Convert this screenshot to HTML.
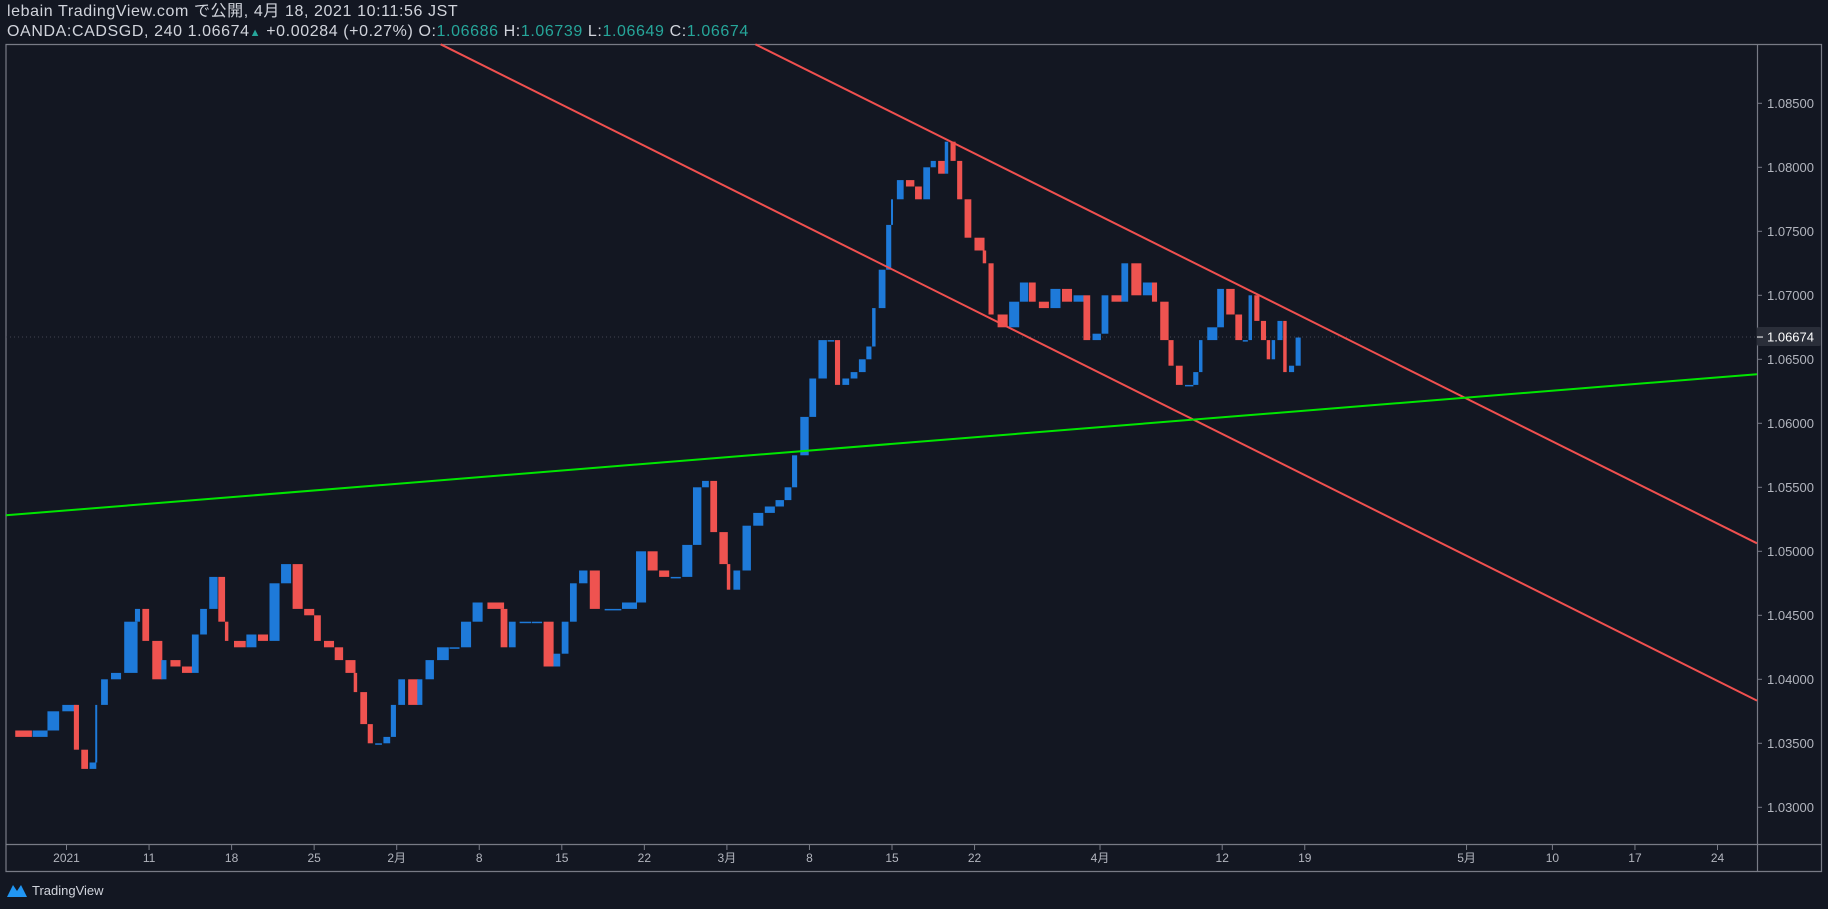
<!DOCTYPE html>
<html><head><meta charset="utf-8">
<style>
html,body{margin:0;padding:0;background:#131722;width:1828px;height:909px;overflow:hidden;font-family:"Liberation Sans","Noto Sans CJK JP",sans-serif;}
#hdr{position:absolute;left:7px;top:2px;color:#d1d4dc;font-size:16px;letter-spacing:0.6px;line-height:20px;}
.g{color:#26a69a}
#logo{position:absolute;left:6px;top:882px;color:#d1d4dc;font-size:13px;display:flex;align-items:center;gap:4px}
</style></head><body>
<div id="hdr">
<div>lebain TradingView.com で公開, 4月 18, 2021 10:11:56 JST</div>
<div>OANDA:CADSGD, 240 1.06674<span class="g" style="font-size:11px">▲</span> +0.00284 (+0.27%) O:<span class="g">1.06686</span> H:<span class="g">1.06739</span> L:<span class="g">1.06649</span> C:<span class="g">1.06674</span></div>
</div>
<svg id="chart" width="1828" height="909" style="position:absolute;left:0;top:0"></svg>
<div id="logo"><svg width="22" height="16"><path d="M1 15 L7 3 L11 9 L15 3 L21 15 Z" fill="#2196f3"/></svg>TradingView</div>
<script>
const days=[-3.7,-2.6,-1.6,-0.8,0.2,0.6,1.1,1.6,1.8,2.3,3.0,3.9,4.3,4.8,5.5,5.9,6.6,7.3,7.8,8.3,8.9,9.4,9.7,10.5,11.2,11.9,12.6,13.3,14.0,14.7,15.2,15.9,16.5,17.2,17.5,18.0,18.4,18.9,19.4,19.8,20.3,21.0,21.4,22.0,22.8,23.5,24.2,24.9,26.0,26.5,27.0,27.8,28.5,29.2,29.7,30.2,30.7,31.3,32.0,33.1,34.1,34.8,35.5,36.2,36.9,37.6,38.2,38.7,39.2,39.8,40.1,40.6,41.2,41.9,42.6,43.2,43.7,44.1,44.7,45.2,45.8,46.3,46.7,47.2,47.7,48.2,48.6,48.9,49.4,49.8,50.0,50.5,51.1,51.6,52.1,52.5,53.0,53.3,53.7,54.1,54.6,55.3,55.6,56.0,56.7,57.4,58.0,58.5,59.2,59.9,60.6,61.3,61.8,62.4,62.9,63.6,64.1,64.8,65.5,65.9,66.5,66.9,67.4,68.0,68.4,68.7,69.4,69.9,70.5,71.0,71.4,71.7,72.1,72.5,72.8,73.1,73.5,73.8,74.2,74.6];
const closes=[1.0360,1.0355,1.0360,1.0375,1.0380,1.0345,1.0330,1.0335,1.0380,1.0400,1.0405,1.0445,1.0455,1.0430,1.0400,1.0415,1.0410,1.0405,1.0435,1.0455,1.0480,1.0445,1.0430,1.0425,1.0435,1.0430,1.0475,1.0490,1.0455,1.0450,1.0430,1.0425,1.0415,1.0405,1.0390,1.0365,1.0350,1.0350,1.0355,1.0380,1.0400,1.0380,1.0400,1.0415,1.0425,1.0425,1.0445,1.0460,1.0455,1.0425,1.0445,1.0445,1.0445,1.0410,1.0420,1.0445,1.0475,1.0485,1.0455,1.0455,1.0460,1.0500,1.0485,1.0480,1.0480,1.0505,1.0550,1.0555,1.0515,1.0490,1.0470,1.0485,1.0520,1.0530,1.0535,1.0540,1.0550,1.0575,1.0605,1.0635,1.0665,1.0665,1.0630,1.0635,1.0640,1.0650,1.0660,1.0690,1.0720,1.0755,1.0775,1.0790,1.0785,1.0775,1.0800,1.0805,1.0795,1.0820,1.0805,1.0775,1.0745,1.0735,1.0725,1.0685,1.0675,1.0695,1.0710,1.0695,1.0690,1.0705,1.0695,1.0700,1.0665,1.0670,1.0700,1.0695,1.0725,1.0700,1.0710,1.0695,1.0665,1.0645,1.0630,1.0630,1.0640,1.0665,1.0675,1.0705,1.0685,1.0665,1.0665,1.0700,1.0680,1.0665,1.0650,1.0665,1.0680,1.0640,1.0645,1.0667];
const priceTicks=[1.085,1.080,1.075,1.070,1.065,1.060,1.055,1.050,1.045,1.040,1.035,1.030];
const timeTickDays=[0,5,10,15,20,25,30,35,40,45,50,55,62.6,70,75,84.8,90,95,100];
const timeTickLabels=["2021","11","18","25","2月","8","15","22","3月","8","15","22","4月","12","19","5月","10","17","24"];
const lastPrice=1.06674;
const NS="http://www.w3.org/2000/svg";
const svg=document.getElementById('chart');
const X=d=>66.5+d*16.51;
const Y=p=>103.3+(1.085-p)*12800;
function mk(tag,attrs,parent){const e=document.createElementNS(NS,tag);for(const k in attrs)e.setAttribute(k,attrs[k]);(parent||svg).appendChild(e);return e;}
const fr=mk('path',{d:'M6 44.5 H1821.5 V871.5 H6 Z M1757.5 44.5 V871.5 M6 844.5 H1821.5',fill:'none',stroke:'#787b86','stroke-width':1.2});


priceTicks.forEach(p=>{
 const y=Y(p);
 const t=mk('line',{x1:1757,x2:1762,y1:y,y2:y,stroke:'#787b86'});
 
 
 const l=mk('text',{x:1767,y:y+4.5,fill:'#b2b5be','font-size':13,'font-family':'Liberation Sans, sans-serif'});
 l.textContent=p.toFixed(5);
 
 
});
timeTickDays.forEach((d,i)=>{
 const x=X(d);
 const t=mk('line',{x1:x,x2:x,y1:845,y2:850,stroke:'#787b86'});
 
 
 const l=mk('text',{x:x,y:862,fill:'#b2b5be','font-size':12,'text-anchor':'middle','font-family':'Liberation Sans, Noto Sans CJK JP, sans-serif'});
 l.textContent=timeTickLabels[i];
 
 
});
const ly=Y(lastPrice);
const lp=mk('line',{x1:6,x2:1757,y1:ly,y2:ly,stroke:'#434651','stroke-dasharray':'1 3'});


for(let i=1;i<closes.length;i++){
 const o=closes[i-1],c=closes[i];
 const gap=(days[i]-days[i-1])*16.51;
 const w=Math.max(2,gap-1.5);
 const x=X(days[i])-w/2;
 const up=c>=o;
 const top=Y(Math.max(o,c)),h=Math.max(1.5,Math.abs(Y(o)-Y(c)));
 const r=mk('rect',{x:x,y:top,width:w,height:h,fill:up?'#1e7ad9':'#ef5350'});
 
 
}
const lines=[['upper-channel-line',755.4,44.3,1757,543.3,'#f0504f'],['lower-channel-line',440.7,44.3,1757,700.6,'#f0504f'],['support-trend-line',6,515.3,1757,374.2,'#00e600']];
lines.forEach(L=>{
 const e=mk('line',{x1:L[1],y1:L[2],x2:L[3],y2:L[4],stroke:L[5],'stroke-width':2});
 
 
});
const bx=mk('rect',{x:1757,y:ly-10,width:64,height:19,fill:'#2a2e39',rx:2});


mk('line',{x1:1757,x2:1763,y1:ly,y2:ly,stroke:'#ffffff'});
const bt=mk('text',{x:1767,y:ly+4.5,fill:'#ffffff','font-size':13,'font-family':'Liberation Sans, sans-serif'});
bt.textContent=lastPrice.toFixed(5);


</script>
</body></html>
